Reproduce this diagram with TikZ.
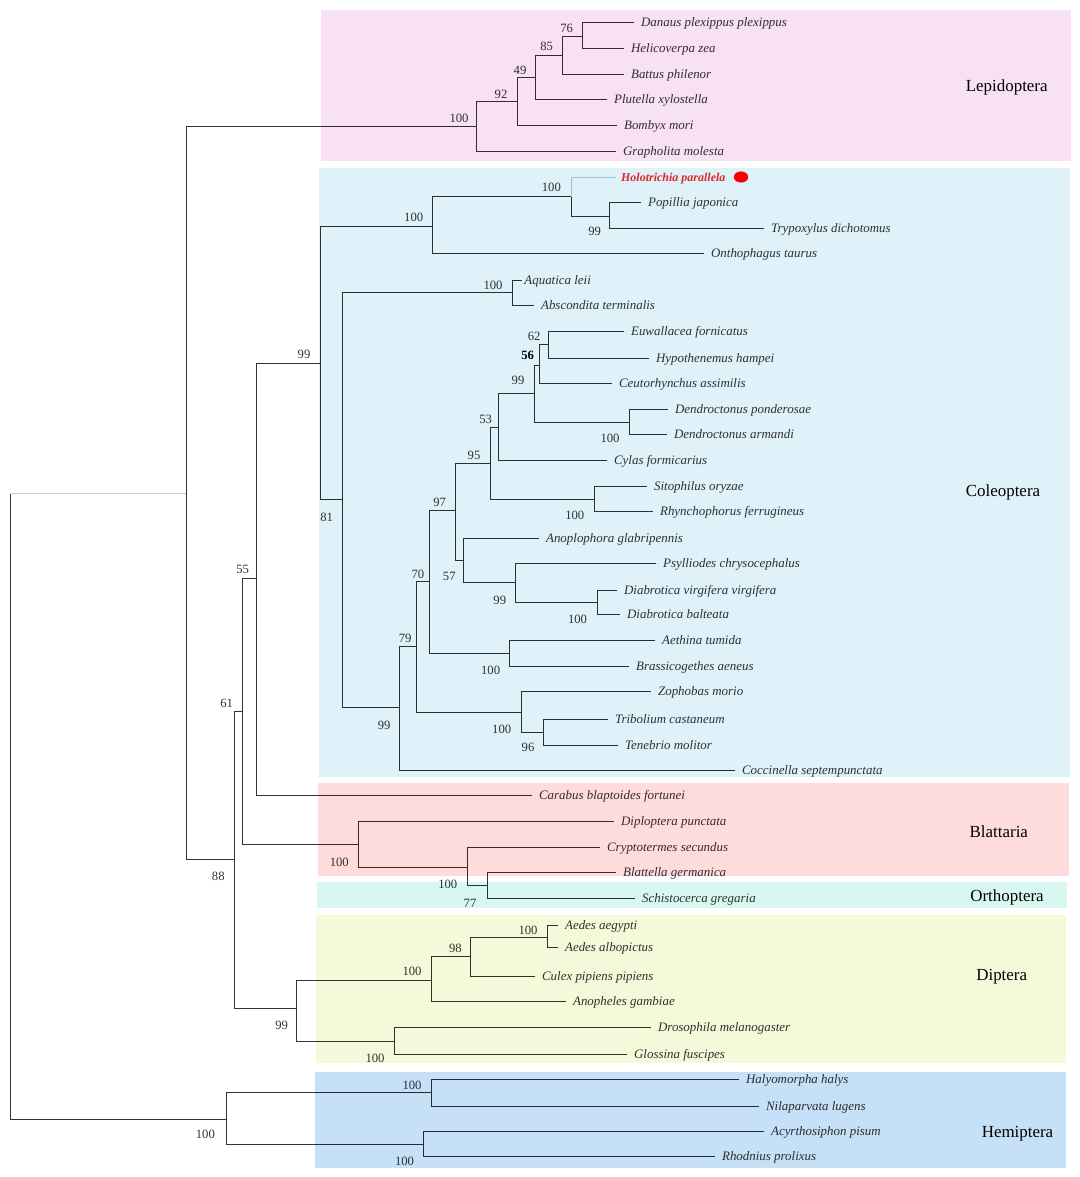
\documentclass[tikz,border=0pt]{standalone}
\usepackage{fontspec}
\setmainfont{Liberation Serif}
\definecolor{lepi}{HTML}{F8E0F5}
\definecolor{cole}{HTML}{DFF1F9}
\definecolor{blat}{HTML}{FFDCDC}
\definecolor{orth}{HTML}{D9F7F1}
\definecolor{dipt}{HTML}{F5F9DA}
\definecolor{hemi}{HTML}{C6E0F7}
\definecolor{linec}{HTML}{333333}
\definecolor{txtc}{HTML}{333333}
\definecolor{lightl}{HTML}{C4CACD}
\definecolor{redt}{HTML}{FF2B2B}
\tikzset{
  br/.style={draw=linec, line width=0.75pt},
  brl/.style={draw=lightl, line width=0.75pt},
  leaf/.style={anchor=west, font=\fontsize{9.7}{11}\selectfont\itshape, text=txtc, inner xsep=5.5pt, inner ysep=2pt, text height=1.5ex, text depth=0.35ex},
  bs/.style={font=\fontsize{9.5}{11}\selectfont, text=txtc, inner sep=0pt},
  grp/.style={font=\fontsize{12.7}{14}\selectfont, text=black, inner sep=0pt},
}
% coordinate snapped to pixel centres
\newcommand\cp[3]{\pgfmathsetmacro\cpx{floor(#2)+0.5}\pgfmathsetmacro\cpy{floor(#3)+0.5}\coordinate (#1) at (\cpx,\cpy);}
\newcommand\lf[6][]{\pgfmathsetmacro\lfx{floor(#4)+0.5}\pgfmathsetmacro\lfy{floor(#5)+0.5}\node[leaf,#1] (#2) at (\lfx,\lfy) {#6}; \draw[br] (#3) |- (#2.west);}
\newcommand\ed[2]{\draw[br] (#1) |- (#2);}
\begin{document}
\begin{tikzpicture}[x=0.75pt,y=-0.75pt]
\useasboundingbox (0,0) rectangle (1080,1177);
\fill[white] (0,0) rectangle (1080,1177);
% internal nodes
\cp{R0}{10.7}{493}
\cp{N187}{186.7}{493}
\cp{Hem}{226.8}{1119}
\cp{Lep}{476}{126}
\cp{B92}{517}{101}
\cp{C49}{535.7}{77.7}
\cp{D85}{562.7}{55}
\cp{E76}{582.7}{36}
\cp{N234}{234.3}{859.3}
\cp{N242}{242.7}{711.4}
\cp{N256}{256.7}{578.7}
\cp{Col}{320}{363.8}
\cp{F100}{432.4}{226}
\cp{G100}{571}{196}
\cp{H99}{609.2}{216}
\cp{N81}{342}{499.6}
\cp{I100}{512.4}{292.7}
\cp{J99}{399.5}{707.7}
\cp{K79}{416.3}{646}
\cp{N70}{429.7}{581.7}
\cp{P97}{455}{510.7}
\cp{Q95}{490.2}{463.3}
\cp{S53}{498.2}{427.3}
\cp{T99}{534.6}{393.3}
\cp{U56}{539.2}{365}
\cp{W62}{548}{344}
\cp{V100}{629.1}{422.7}
\cp{R100}{594.7}{499.3}
\cp{X57}{463.8}{560}
\cp{Y99}{515.5}{582.7}
\cp{Z100}{597}{602.3}
\cp{O100}{509.7}{653.7}
\cp{L100}{521.2}{712.3}
\cp{M96}{543.8}{732.3}
\cp{Bla}{358.5}{844.3}
\cp{Bl2}{467}{867.3}
\cp{Or77}{487}{885}
\cp{Dip}{296.7}{1008.6}
\cp{DA}{431.7}{980}
\cp{D98}{470}{956.7}
\cp{AE}{547.3}{937.3}
\cp{DB}{394.2}{1041}
\cp{H1}{431.7}{1092.7}
\cp{H2}{423.2}{1144}
% root
\draw[br] (R0) |- (Hem);
\draw[brl] (R0) -- (N187);
% internal edges
\ed{N187}{Lep} \ed{N187}{N234}
\ed{Lep}{B92} \ed{B92}{C49} \ed{C49}{D85} \ed{D85}{E76}
\ed{N234}{N242} \ed{N234}{Dip}
\ed{N242}{N256} \ed{N242}{Bla}
\ed{N256}{Col}
\ed{Col}{F100} \ed{Col}{N81}
\ed{F100}{G100} \ed{G100}{H99}
\ed{N81}{I100} \ed{N81}{J99}
\ed{J99}{K79}
\ed{K79}{N70} \ed{K79}{L100}
\ed{N70}{P97} \ed{N70}{O100}
\ed{P97}{Q95} \ed{P97}{X57}
\ed{Q95}{S53} \ed{Q95}{R100}
\ed{S53}{T99}
\ed{T99}{U56} \ed{T99}{V100}
\ed{U56}{W62}
\ed{X57}{Y99} \ed{Y99}{Z100}
\ed{L100}{M96}
\ed{Bla}{Bl2} \ed{Bl2}{Or77}
\ed{Dip}{DA} \ed{Dip}{DB}
\ed{DA}{D98} \ed{D98}{AE}
\ed{Hem}{H1} \ed{Hem}{H2}
% leaves
\lf{gra}{Lep}{615}{151.5}{Grapholita molesta}
\lf{bom}{B92}{616}{125}{Bombyx mori}
\lf{plu}{C49}{606}{99.7}{Plutella xylostella}
\lf{bat}{D85}{623.3}{74}{Battus philenor}
\lf{dan}{E76}{633}{22.7}{Danaus plexippus plexippus}
\lf{hel}{E76}{623}{48.3}{Helicoverpa zea}
\lf{car}{N256}{531.3}{795.7}{Carabus blaptoides fortunei}
\lf{ont}{F100}{703.7}{253.7}{Onthophagus taurus}
\lf{pop}{H99}{640.6}{202.7}{Popillia japonica}
\lf{try}{H99}{763.8}{228.3}{Trypoxylus dichotomus}
\lf[inner xsep=2pt]{aqu}{I100}{521}{280}{Aquatica leii}
\lf{abs}{I100}{533.4}{305}{Abscondita terminalis}
\lf{coc}{J99}{734.4}{770.3}{Coccinella septempunctata}
\lf{euw}{W62}{623.4}{331}{Euwallacea fornicatus}
\lf{hyp}{W62}{648.3}{358.3}{Hypothenemus hampei}
\lf{ceu}{U56}{611.9}{383.3}{Ceutorhynchus assimilis}
\lf{dpo}{V100}{667.4}{409.3}{Dendroctonus ponderosae}
\lf{dar}{V100}{666.6}{434.3}{Dendroctonus armandi}
\lf{cyl}{S53}{606.2}{460.7}{Cylas formicarius}
\lf{sit}{R100}{646.3}{486.7}{Sitophilus oryzae}
\lf{rhy}{R100}{652.8}{511.7}{Rhynchophorus ferrugineus}
\lf{ano}{X57}{538}{538.3}{Anoplophora glabripennis}
\lf{psy}{Y99}{655.1}{563.3}{Psylliodes chrysocephalus}
\lf{dvi}{Z100}{616.9}{590}{Diabrotica virgifera virgifera}
\lf{dba}{Z100}{619.6}{614.3}{Diabrotica balteata}
\lf{aet}{O100}{654}{640.3}{Aethina tumida}
\lf{bra}{O100}{628.4}{666.7}{Brassicogethes aeneus}
\lf{zop}{L100}{650.2}{691.7}{Zophobas morio}
\lf{tri}{M96}{607.3}{719}{Tribolium castaneum}
\lf{ten}{M96}{617.6}{745}{Tenebrio molitor}
\lf{dip}{Bla}{613}{821.7}{Diploptera punctata}
\lf{cry}{Bl2}{599.6}{847.3}{Cryptotermes secundus}
\lf{blg}{Or77}{615.2}{872.7}{Blattella germanica}
\lf{sch}{Or77}{634}{898.3}{Schistocerca gregaria}
\lf{anog}{DA}{565.2}{1001}{Anopheles gambiae}
\lf{cul}{D98}{534}{976}{Culex pipiens pipiens}
\lf{aeg}{AE}{557}{925.7}{Aedes aegypti}
\lf{alb}{AE}{557}{947.3}{Aedes albopictus}
\lf{dro}{DB}{650.9}{1027.7}{Drosophila melanogaster}
\lf{glo}{DB}{626.3}{1054.3}{Glossina fuscipes}
\lf{hal}{H1}{738}{1079}{Halyomorpha halys}
\lf{nil}{H1}{758}{1106}{Nilaparvata lugens}
\lf{acy}{H2}{763.4}{1131.7}{Acyrthosiphon pisum}
\lf{rho}{H2}{714.3}{1156.7}{Rhodnius prolixus}
% Holotrichia branch (light)
\node[leaf, inner xsep=4pt, text=redt, font=\fontsize{9}{11}\selectfont\itshape\bfseries] (hol) at (615.5,177.5) {Holotrichia parallela};
\draw[brl] (G100) |- (hol.west);
% bootstrap labels
\node[bs] (b1) at (459,118) {100};
\node[bs] (b2) at (501,94) {92};
\node[bs] (b3) at (520,70) {49};
\node[bs] (b4) at (546.7,46.7) {85};
\node[bs] (b5) at (566.7,28.3) {76};
\node[bs] (b6) at (304,354) {99};
\node[bs] (b7) at (242.7,569.8) {55};
\node[bs] (b8) at (226.7,703) {61};
\node[bs] (b9) at (218.3,876) {88};
\node[bs] (b10) at (413.7,217.7) {100};
\node[bs] (b11) at (551.4,187.7) {100};
\node[bs] (b12) at (594.7,231.7) {99};
\node[bs] (b13) at (326.7,517) {81};
\node[bs] (b14) at (493,285) {100};
\node[bs] (b15) at (384.2,725) {99};
\node[bs] (b16) at (405.2,638.3) {79};
\node[bs] (b17) at (417.9,574.3) {70};
\node[bs] (b18) at (439.7,502.7) {97};
\node[bs] (b19) at (474,455) {95};
\node[bs] (b20) at (485.6,419.3) {53};
\node[bs] (b21) at (518,380) {99};
\node[bs, font=\fontsize{9.5}{11}\selectfont\bfseries, text=black] (b22) at (527.7,355) {56};
\node[bs] (b23) at (534.2,336) {62};
\node[bs] (b24) at (610,438.3) {100};
\node[bs] (b25) at (574.8,515) {100};
\node[bs] (b26) at (449.3,576.7) {57};
\node[bs] (b27) at (499.8,600) {99};
\node[bs] (b28) at (577.5,619) {100};
\node[bs] (b29) at (490.6,670.7) {100};
\node[bs] (b30) at (501.7,729.3) {100};
\node[bs] (b31) at (528,747.7) {96};
\node[bs] (b32) at (339.3,862.3) {100};
\node[bs] (b33) at (447.8,884.3) {100};
\node[bs] (b34) at (470,903.3) {77};
\node[bs] (b35) at (281.7,1025.8) {99};
\node[bs] (b36) at (412,971.7) {100};
\node[bs] (b37) at (455.4,948.3) {98};
\node[bs] (b38) at (528,930) {100};
\node[bs] (b39) at (375,1058.3) {100};
\node[bs] (b40) at (205.4,1134.3) {100};
\node[bs] (b41) at (412,1085) {100};
\node[bs] (b42) at (404.5,1161) {100};
% coloured group boxes (multiplied over the tree)
\begin{scope}[blend mode=multiply]
\fill[lepi] (320.5,10) rectangle (1071,161);
\fill[cole] (319,168) rectangle (1070,777);
\fill[blat] (318.3,783.3) rectangle (1068.7,876.3);
\fill[orth] (317.3,881.7) rectangle (1067.3,908.3);
\fill[dipt] (316,914.5) rectangle (1065.7,1062.7);
\fill[hemi] (315,1071.7) rectangle (1065.5,1168);
\end{scope}
% marker
\fill[red] (741,177) ellipse [x radius=7.2, y radius=5.6];
% group labels
\node[grp] (gLep) at (1006.7,87.3) {Lepidoptera};
\node[grp] (gCol) at (1003,492.7) {Coleoptera};
\node[grp] (gBla) at (998.8,831.7) {Blattaria};
\node[grp] (gOrt) at (1007,897.7) {Orthoptera};
\node[grp] (gDip) at (1001.7,976.7) {Diptera};
\node[grp] (gHem) at (1017.5,1133.3) {Hemiptera};
\end{tikzpicture}
\end{document}
